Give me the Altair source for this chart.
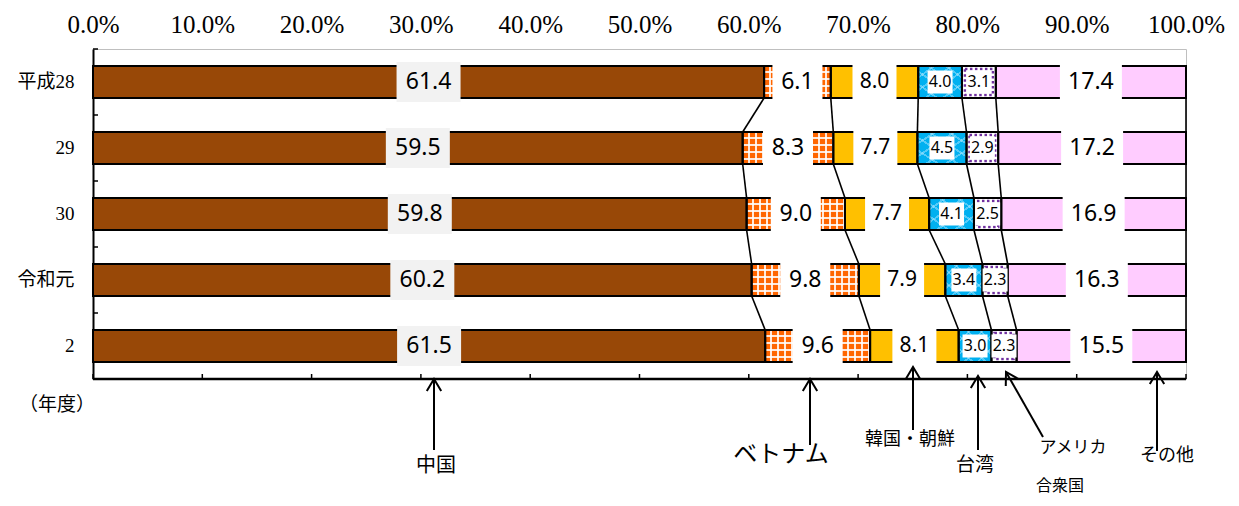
import altair as alt
import pandas as pd

# ---------------- data ----------------
years = ["平成28", "29", "30", "令和元", "2"]
categories = ["中国", "ベトナム", "韓国・朝鮮", "台湾", "アメリカ合衆国", "その他"]
china = [61.4, 59.5, 59.8, 60.2, 61.5]
vietnam = [6.1, 8.3, 9.0, 9.8, 9.6]
korea = [8.0, 7.7, 7.7, 7.9, 8.1]
taiwan = [4.0, 4.5, 4.1, 3.4, 3.0]
usa = [3.1, 2.9, 2.5, 2.3, 2.3]
other = [17.4, 17.2, 16.9, 16.3, 15.5]
x_ticks = [0, 10, 20, 30, 40, 50, 60, 70, 80, 90, 100]

# annotation texts
ann_labels = ["中国", "ベトナム", "韓国・朝鮮", "台湾", "アメリカ", "合衆国", "その他"]

# ---------------- style ----------------
W, H = 1093, 330
PX = W / 100.0
BAR_H = 32
STEP = 66
colors = ["#984807", "#ff6600", "#ffc000", "#00b0f0", "#ffffff", "#ffccff"]
series = [china, vietnam, korea, taiwan, usa, other]

rows = []
for i, yv in enumerate(years):
    vals = [s[i] for s in series]
    tot = sum(vals)
    cum = 0.0
    for k, (c, v) in enumerate(zip(categories, vals)):
        start = cum / tot * 100
        cum += v
        end = cum / tot * 100
        rows.append(dict(year=yv, yi=i, cat=c, k=k, value=v, start=start,
                         end=end, mid=(start + end) / 2, label=f"{v:.1f}"))
segs = pd.DataFrame(rows)

conn = []
for k in range(len(categories)):
    for i in range(len(years) - 1):
        a = segs[(segs.yi == i) & (segs.k == k)].end.iloc[0]
        b = segs[(segs.yi == i + 1) & (segs.k == k)].end.iloc[0]
        conn.append(dict(y1=years[i], y2=years[i + 1], x1=a, x2=b))
conn = pd.DataFrame(conn)

xscale = alt.Scale(domain=[0, 100], nice=False, zero=True)
xaxis = alt.Axis(orient="top", values=x_ticks, title=None, domain=False, ticks=False,
                 grid=False, labelExpr="format(datum.value, '.1f') + '%'",
                 labelFont="Liberation Serif", labelFontSize=25, labelColor="black",
                 labelPadding=12, labelOverlap=False, labelBound=False, labelFlush=False)
yscale = alt.Scale(domain=years, paddingInner=34 / 66, paddingOuter=17 / 66)
yaxis = alt.Axis(title=None, domain=True, domainColor="black", domainWidth=2,
                 ticks=False, grid=False, labelFont="Liberation Serif, Noto Sans CJK JP",
                 labelFontSize=19, labelColor="black", labelPadding=19)


def X(f):
    return alt.X(f, type="quantitative", scale=xscale, axis=xaxis)


def Y(f):
    return alt.Y(f, type="nominal", scale=yscale, axis=yaxis)


def stripes(period, lw, base_col, line_col, x1, y1, x2, y2):
    stops = []
    t = 0.0
    while t < 1 - 1e-9:
        a = min(t + period - lw, 1.0)
        b = min(t + period, 1.0)
        stops += [{"offset": round(t, 4), "color": base_col},
                  {"offset": round(a, 4), "color": base_col},
                  {"offset": round(a, 4), "color": line_col},
                  {"offset": round(b, 4), "color": line_col}]
        t += period
    return {"gradient": "linear", "x1": x1, "y1": y1, "x2": x2, "y2": y2, "stops": stops}


layers = []

# base fills
layers.append(alt.Chart(segs).mark_bar(strokeWidth=0).encode(
    x=X("start"), x2="end", y=Y("year"),
    color=alt.Color("cat:N", scale=alt.Scale(domain=categories, range=colors), legend=None)))

# Vietnam grid pattern
clear = "rgba(255,255,255,0)"
white = "rgba(255,255,255,0.85)"
for i in range(len(years)):
    d = segs[(segs.cat == "ベトナム") & (segs.yi == i)]
    wpx = float((d.end - d.start).iloc[0]) * PX
    g = stripes(7.0 / wpx, 1.7 / wpx, clear, white, 0, 0, 1, 0)
    layers.append(alt.Chart(d).mark_bar(fill=g, strokeWidth=0).encode(
        x=X("start"), x2="end", y=Y("year")))
gh = stripes(7.0 / BAR_H, 1.7 / BAR_H, clear, white, 0, 0, 0, 1)
layers.append(alt.Chart(segs[segs.cat == "ベトナム"]).mark_bar(fill=gh, strokeWidth=0).encode(
    x=X("start"), x2="end", y=Y("year")))

# Taiwan lattice pattern
light = "rgba(170,230,255,0.5)"
for (a1, b1, a2, b2) in [(0, 0, 1, 1), (1, 0, 0, 1)]:
    g = stripes(0.2, 0.035, clear, light, a1, b1, a2, b2)
    layers.append(alt.Chart(segs[segs.cat == "台湾"]).mark_bar(fill=g, strokeWidth=0).encode(
        x=X("start"), x2="end", y=Y("year")))

# outlines
layers.append(alt.Chart(segs).mark_bar(fillOpacity=0, stroke="black", strokeWidth=2).encode(
    x=X("start"), x2="end", y=Y("year")))

# USA dotted inner border
layers.append(alt.Chart(segs[segs.cat == "アメリカ合衆国"]).mark_bar(
    fillOpacity=0, stroke="#7030a0", strokeWidth=2.5, strokeDash=[2.5, 2.5],
    height=26, xOffset=3, x2Offset=-3).encode(x=X("start"), x2="end", y=Y("year")))

# connectors
layers.append(alt.Chart(conn).mark_rule(color="black", strokeWidth=1.6, yOffset=16, y2Offset=-16).encode(
    x=X("x1"), x2="x2", y=Y("y1"), y2="y2"))

# label boxes and texts
box = {"中国": (64, 40, "#f2f2f2", 23), "ベトナム": (50, 40, "white", 23),
       "韓国・朝鮮": (44, 34, "white", 21), "台湾": (25, 23, "white", 16),
       "アメリカ合衆国": (25, 23, "white", 16), "その他": (62, 40, "white", 23)}
for c in categories:
    w, h, col, fs = box[c]
    r = h / w
    path = f"M-1,-{r:.4f}L1,-{r:.4f}L1,{r:.4f}L-1,{r:.4f}Z"
    d = segs[segs.cat == c]
    layers.append(alt.Chart(d).mark_point(shape=path, size=w * w, filled=True, color=col,
                                          opacity=1, strokeWidth=0).encode(
        x=X("mid"), y=Y("year")))
    layers.append(alt.Chart(d).mark_text(font="Noto Sans", fontSize=fs, color="black",
                                         align="center", baseline="middle").encode(
        x=X("mid"), y=Y("year"), text="label:N"))

# inward ticks (bottom and left) + bottom axis line
layers.append(alt.Chart(pd.DataFrame({"t": x_ticks})).mark_rule(color="black", strokeWidth=1.5).encode(
    x=X("t"), y=alt.value(H - 5), y2=alt.value(H)))
layers.append(alt.Chart(pd.DataFrame({"year": years})).mark_rule(
    color="black", strokeWidth=1.5, yOffset=-STEP / 2).encode(
    y=Y("year"), x=alt.value(0), x2=alt.value(5)))
one = alt.InlineData(values=[{"a": 0}])
layers.append(alt.Chart(one).mark_rule(color="black", strokeWidth=2.5).encode(
    x=alt.value(0), x2=alt.value(W), y=alt.value(H)))

# year title
layers.append(alt.Chart(one).mark_text(text="（年度）", font="Noto Sans CJK JP", fontSize=19,
                                       color="black", align="center", baseline="middle").encode(
    x=alt.value(-36), y=alt.value(356)))

# annotation arrows (pixel positions in the view)
arrows = [  # tip x, tip y, tail x, tail y
    (341, 330, 341, 401),
    (717, 330, 717, 396),
    (820, 318, 820, 381),
    (885, 327, 885, 401),
    (913, 323, 950, 388),
    (1064, 323, 1064, 402),
]
angles = [0, 0, 0, 0, 330, 0]
head = "M-0.6,1L0,0L0.6,1"
for (tx, ty, bx, by), ang in zip(arrows, angles):
    layers.append(alt.Chart(one).mark_rule(color="black", strokeWidth=2).encode(
        x=alt.value(tx), x2=alt.value(bx), y=alt.value(ty), y2=alt.value(by)))
    layers.append(alt.Chart(one).mark_point(shape=head, size=576, angle=ang, color="black",
                                            strokeWidth=2, opacity=1).encode(
        x=alt.value(tx), y=alt.value(ty)))

ann_pos = [(343, 417, 20), (688, 406, 24), (817, 391, 18), (882, 416, 19),
           (980, 399, 17), (967, 437, 16), (1074, 407, 18)]
for t, (px, py, fs) in zip(ann_labels, ann_pos):
    layers.append(alt.Chart(one).mark_text(text=t, font="Noto Sans CJK JP", fontSize=fs,
                                           color="black", align="center", baseline="middle").encode(
        x=alt.value(px), y=alt.value(py)))

chart = alt.layer(*layers).properties(
    width=W, height=H,
    padding={"left": 85, "top": 41, "right": 45, "bottom": 118},
    autosize=alt.AutoSizeParams(type="none"),
).configure_view(stroke="#bfbfbf", strokeWidth=1)

chart.save("out.html", embed_options={"renderer": "svg", "actions": False})
